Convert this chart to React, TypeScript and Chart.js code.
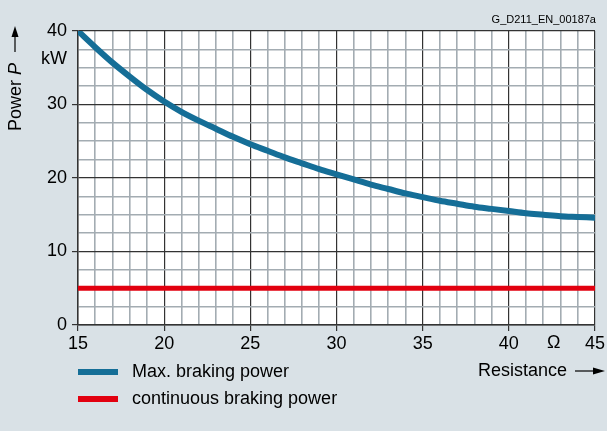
import React, { useEffect, useRef } from 'react';
import { Chart, registerables } from 'chart.js';

Chart.register(...registerables);

// ---- data ----
const resistance = [15, 16, 17, 18, 19, 20, 21, 22, 23, 24, 25, 26, 27, 28, 29, 30, 31, 32, 33, 34, 35, 36, 37, 38, 39, 40, 41, 42, 43, 44, 45];
const maxBrakingPower = [40, 37.8, 35.7, 33.8, 32.0, 30.4, 29.0, 27.8, 26.7, 25.6, 24.6, 23.7, 22.8, 22.0, 21.2, 20.5, 19.8, 19.1, 18.5, 17.9, 17.4, 16.9, 16.5, 16.1, 15.8, 15.5, 15.2, 15.0, 14.8, 14.7, 14.6];
const continuousBrakingPower = [5, 5, 5, 5, 5, 5, 5, 5, 5, 5, 5, 5, 5, 5, 5, 5, 5, 5, 5, 5, 5, 5, 5, 5, 5, 5, 5, 5, 5, 5, 5];
const seriesNames = ['Max. braking power', 'continuous braking power'];
const xTickLabels = [15, 20, 25, 30, 35, 40, 45];
const yTickLabels = [0, 10, 20, 30, 40];
const xUnit = 'Ω';
const yUnit = 'kW';
const xTitle = 'Resistance';
const yTitleMain = 'Power ';
const yTitleSymbol = 'P';
const docCode = 'G_D211_EN_00187a';

const BG = '#d9e1e6';
const BLUE = '#156e97';
const RED = '#e2000f';
const MAJOR = '#333333';
const MINOR = '#a3acb2';
const FONT = '"Liberation Sans", Arial, sans-serif';
const FS = 18;

const annotations = {
  id: 'annotations',
  beforeDraw(chart: any) {
    const { ctx, chartArea } = chart;
    ctx.save();
    ctx.fillStyle = BG;
    ctx.fillRect(0, 0, chart.width, chart.height);
    ctx.fillStyle = '#ffffff';
    ctx.fillRect(chartArea.left, chartArea.top, chartArea.right - chartArea.left, chartArea.bottom - chartArea.top);
    ctx.restore();
  },
  afterDraw(chart: any) {
    const { ctx, chartArea } = chart;
    const xs = chart.scales.x;
    const ys = chart.scales.y;
    ctx.save();
    ctx.fillStyle = '#000';
    ctx.strokeStyle = '#000';

    // document code
    ctx.font = `11px ${FONT}`;
    ctx.textAlign = 'right';
    ctx.textBaseline = 'alphabetic';
    ctx.fillText(docCode, chartArea.right + 1, 23);

    // y unit
    ctx.font = `${FS}px ${FONT}`;
    ctx.textAlign = 'right';
    ctx.textBaseline = 'middle';
    ctx.fillText(yUnit, chartArea.left - 11, ys.getPixelForValue(36.2));

    // x unit
    ctx.textAlign = 'center';
    ctx.textBaseline = 'top';
    ctx.fillText(xUnit, xs.getPixelForValue(42.6), chartArea.bottom + 9);

    // y title rotated
    ctx.save();
    ctx.translate(16, 131);
    ctx.rotate(-Math.PI / 2);
    ctx.textAlign = 'left';
    ctx.textBaseline = 'middle';
    ctx.font = `${FS}px ${FONT}`;
    ctx.fillText(yTitleMain, 0, 0);
    const w1 = ctx.measureText(yTitleMain).width;
    ctx.font = `italic ${FS}px ${FONT}`;
    ctx.fillText(yTitleSymbol, w1, 0);
    ctx.restore();
    // y arrow
    ctx.lineWidth = 1.2;
    ctx.beginPath();
    ctx.moveTo(15, 52);
    ctx.lineTo(15, 36);
    ctx.stroke();
    ctx.beginPath();
    ctx.moveTo(15, 26);
    ctx.lineTo(11.5, 37);
    ctx.lineTo(18.5, 37);
    ctx.closePath();
    ctx.fill();

    // x title
    ctx.font = `${FS}px ${FONT}`;
    ctx.textAlign = 'right';
    ctx.textBaseline = 'middle';
    ctx.fillText(xTitle, 567, 371);
    ctx.beginPath();
    ctx.moveTo(575, 371);
    ctx.lineTo(594, 371);
    ctx.stroke();
    ctx.beginPath();
    ctx.moveTo(605, 371);
    ctx.lineTo(593, 367.5);
    ctx.lineTo(593, 374.5);
    ctx.closePath();
    ctx.fill();

    // legend
    const items = chart.data.datasets;
    items.forEach((ds: any, i: number) => {
      const y = 372 + i * 27;
      ctx.strokeStyle = ds.borderColor;
      ctx.lineWidth = 6;
      ctx.lineCap = 'butt';
      ctx.beginPath();
      ctx.moveTo(78, y);
      ctx.lineTo(118, y);
      ctx.stroke();
      ctx.fillStyle = '#000';
      ctx.font = `${FS}px ${FONT}`;
      ctx.textAlign = 'left';
      ctx.textBaseline = 'middle';
      ctx.fillText(ds.label, 132, y);
    });
    ctx.restore();
  },
};

export default function App() {
  const ref = useRef<HTMLCanvasElement>(null);
  useEffect(() => {
    document.body.style.margin = '0';
    const isMajorX = (v: number) => xTickLabels.includes(v);
    const isMajorY = (v: number) => yTickLabels.includes(v);
    const chart = new Chart(ref.current as HTMLCanvasElement, {
      type: 'line',
      data: {
        datasets: [
          {
            label: seriesNames[0],
            data: resistance.map((r, i) => ({ x: r, y: maxBrakingPower[i] })),
            borderColor: BLUE,
            borderWidth: 6,
            pointRadius: 0,
            cubicInterpolationMode: 'monotone',
            borderCapStyle: 'butt',
          },
          {
            label: seriesNames[1],
            data: resistance.map((r, i) => ({ x: r, y: continuousBrakingPower[i] })),
            borderColor: RED,
            borderWidth: 5,
            pointRadius: 0,
          },
        ],
      },
      options: {
        responsive: false,
        animation: false,
        events: [],
        layout: { padding: { left: 0, top: 31, right: 11, bottom: 0 } },
        plugins: { legend: { display: false }, tooltip: { enabled: false } },
        scales: {
          x: {
            type: 'linear',
            min: 15,
            max: 45,
            afterFit: (s: any) => { s.height = 106; },
            ticks: {
              stepSize: 1,
              autoSkip: false,
              maxRotation: 0,
              padding: 2,
              color: '#000',
              font: { family: FONT, size: FS },
              callback: (v: any) => (isMajorX(Number(v)) ? String(v) : ''),
            },
            grid: {
              color: (c: any) => (c.tick && isMajorX(c.tick.value) ? MAJOR : MINOR),
              lineWidth: (c: any) => (c.tick && isMajorX(c.tick.value) ? 1.2 : 1.6),
              tickColor: (c: any) => (c.tick && isMajorX(c.tick.value) ? MAJOR : 'transparent'),
              tickLength: 6,
            },
            border: { color: MAJOR, width: 1.5 },
          },
          y: {
            min: 0,
            max: 40,
            afterFit: (s: any) => { s.width = 78; },
            ticks: {
              stepSize: 2.5,
              autoSkip: false,
              padding: 5,
              color: '#000',
              font: { family: FONT, size: FS },
              callback: (v: any) => (isMajorY(Number(v)) ? String(v) : ''),
            },
            grid: {
              color: (c: any) => (c.tick && isMajorY(c.tick.value) ? MAJOR : MINOR),
              lineWidth: (c: any) => (c.tick && isMajorY(c.tick.value) ? 1.2 : 1.6),
              tickColor: (c: any) => (c.tick && isMajorY(c.tick.value) ? MAJOR : 'transparent'),
              tickLength: 6,
            },
            border: { color: MAJOR, width: 1.5 },
          },
        },
      },
      plugins: [annotations],
    } as any);
    return () => chart.destroy();
  }, []);
  return (
    <div style={{ width: 607, height: 431, background: BG }}>
      <canvas ref={ref} width={607} height={431} style={{ display: 'block' }} />
    </div>
  );
}
